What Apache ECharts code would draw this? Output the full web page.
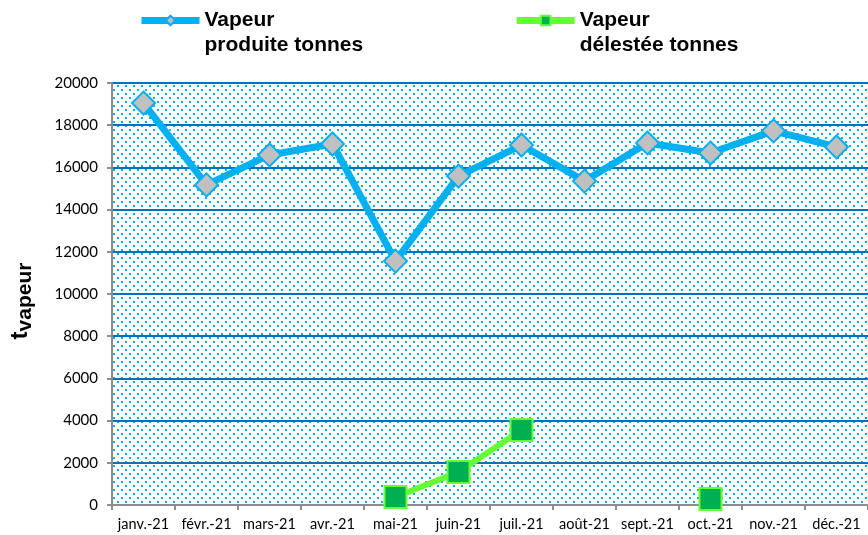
<!DOCTYPE html>
<html>
<head>
<meta charset="utf-8">
<script src="https://cdn.jsdelivr.net/npm/echarts@6/dist/echarts.min.js"></script>
<style>
  html, body { margin: 0; padding: 0; background: #fff; }
  #chart { width: 868px; height: 535px; }
</style>
</head>
<body>
<div id="chart"></div>
<script>
var months = ["janv.-21", "févr.-21", "mars-21", "avr.-21", "mai-21", "juin-21",
  "juil.-21", "août-21", "sept.-21", "oct.-21", "nov.-21", "déc.-21"];
var vapeurProduite = [19050, 15170, 16590, 17110, 11560, 15590, 17060, 15350, 17160, 16680, 17730, 16970];
var vapeurDelestee = [null, null, null, null, 380, 1560, 3560, null, null, 280, null, null];
var seriesNames = ["Vapeur\nproduite tonnes", "Vapeur\ndélestée tonnes"];

// dotted background like the excel fill
var tile = document.createElement("canvas");
tile.width = 8;
tile.height = 8;
var ctx = tile.getContext("2d");
ctx.fillStyle = "#ffffff";
ctx.fillRect(0, 0, 8, 8);
ctx.fillStyle = "#00B0F0";
ctx.fillRect(1, 1, 2, 2);
ctx.fillRect(5, 5, 2, 2);

var chart = echarts.init(document.getElementById("chart"));
var option = {
  animation: false,
  legend: {
    top: -22,
    left: 133,
    itemGap: 150,
    itemWidth: 58,
    itemHeight: 12,
    data: seriesNames,
    lineStyle: { width: 7 },
    formatter: function (name) {
      // blank first line so "Vapeur" sits level with the icon
      return " \n" + name;
    },
    textStyle: {
      fontFamily: "Liberation Sans",
      fontWeight: "bold",
      fontSize: 21,
      color: "#000",
      lineHeight: 25,
    },
  },
  grid: {
    left: 112,
    top: 83,
    width: 760,
    bottom: 30,
    show: true,
    borderWidth: 0,
    backgroundColor: { image: tile, repeat: "repeat" },
  },
  xAxis: {
    type: "category",
    data: months,
    boundaryGap: true,
    axisLine: { lineStyle: { color: "#8c8c8c", width: 2 } },
    axisTick: { show: true, length: 5, lineStyle: { color: "#8c8c8c", width: 2 } },
    axisLabel: {
      interval: 0,
      margin: 12,
      fontFamily: "Lato",
      fontSize: 14.5,
      color: "#000",
    },
  },
  yAxis: {
    type: "value",
    min: 0,
    max: 20000,
    interval: 2000,
    name: "{a|t}{b|vapeur}",
    nameLocation: "middle",
    nameRotate: 90,
    nameGap: 76,
    nameTextStyle: {
      rich: {
        a: { fontFamily: "Liberation Sans", fontWeight: "bold", fontSize: 24, color: "#000" },
        b: { fontFamily: "Liberation Sans", fontWeight: "bold", fontSize: 21, color: "#000", padding: [10, 14, 0, 0] },
      },
    },
    axisLine: { show: true, lineStyle: { color: "#8c8c8c", width: 2 } },
    axisTick: { show: true, length: 5, lineStyle: { color: "#8c8c8c", width: 2 } },
    axisLabel: {
      margin: 14,
      fontFamily: "Lato",
      fontSize: 15,
      color: "#000",
      formatter: function (v) { return String(v); },
    },
    splitLine: { lineStyle: { color: "#0070C0", width: 2 } },
  },
  series: [
    {
      name: seriesNames[0],
      type: "line",
      data: vapeurProduite,
      symbol: "diamond",
      symbolSize: 23,
      lineStyle: { color: "#00B0F0", width: 7 },
      itemStyle: { color: "#C0C0C0", borderColor: "#00B0F0", borderWidth: 2 },
      z: 3,
    },
    {
      name: seriesNames[1],
      type: "line",
      data: vapeurDelestee,
      connectNulls: false,
      symbol: "rect",
      symbolSize: 22,
      lineStyle: { color: "#66FF33", width: 6 },
      itemStyle: { color: "#00B050", borderColor: "#66FF33", borderWidth: 2 },
      z: 4,
    },
  ],
};
chart.setOption(option);
</script>
</body>
</html>
